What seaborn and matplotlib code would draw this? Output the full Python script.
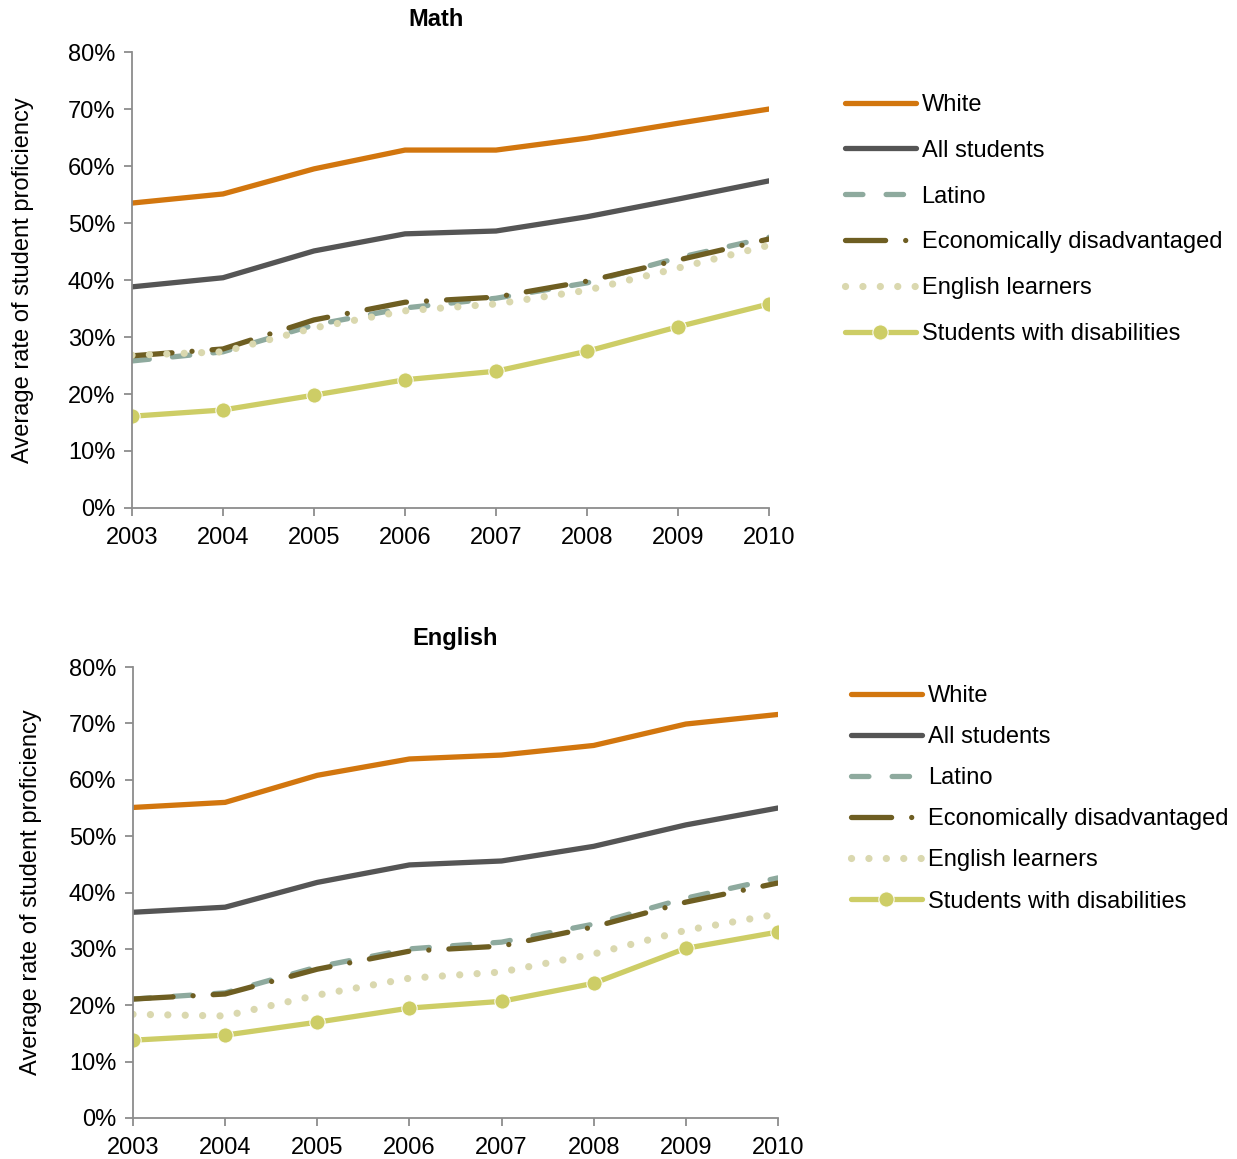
import matplotlib
matplotlib.use("Agg")
import matplotlib.pyplot as plt
from matplotlib.ticker import FuncFormatter
import seaborn as sns
import pandas as pd

# proficiency rates (%)
years = [2003, 2004, 2005, 2006, 2007, 2008, 2009, 2010]
groups = ["White", "All students", "Latino", "Economically disadvantaged",
          "English learners", "Students with disabilities"]

math_white = [53.5, 55.1, 59.5, 62.8, 62.8, 64.9, 67.5, 70.0]
math_all = [38.8, 40.4, 45.1, 48.1, 48.6, 51.1, 54.2, 57.4]
math_latino = [25.8, 27.4, 32.1, 35.1, 36.8, 39.5, 43.9, 47.5]
math_econ = [26.7, 27.9, 33.0, 36.1, 37.0, 39.8, 43.5, 47.2]
math_el = [26.8, 27.4, 31.6, 34.6, 35.8, 38.2, 42.1, 46.1]
math_swd = [16.1, 17.2, 19.8, 22.5, 24.0, 27.5, 31.8, 35.8]

eng_white = [55.1, 56.0, 60.8, 63.7, 64.4, 66.1, 69.9, 71.6]
eng_all = [36.5, 37.4, 41.8, 44.9, 45.6, 48.2, 52.0, 55.0]
eng_latino = [21.1, 22.2, 26.8, 30.0, 31.2, 34.4, 39.0, 42.6]
eng_econ = [21.1, 22.0, 26.4, 29.6, 30.5, 33.9, 38.3, 41.7]
eng_el = [18.4, 18.1, 21.8, 24.8, 25.9, 29.1, 33.3, 36.2]
eng_swd = [13.8, 14.7, 17.0, 19.5, 20.7, 23.9, 30.1, 33.0]

math_vals = [math_white, math_all, math_latino, math_econ, math_el, math_swd]
eng_vals = [eng_white, eng_all, eng_latino, eng_econ, eng_el, eng_swd]

styles = {
    "White": dict(color="#D2760E", lw=3.8, linestyle="-"),
    "All students": dict(color="#555555", lw=3.8, linestyle="-"),
    "Latino": dict(color="#8EAA9E", lw=3.8, linestyle=(0, (3.3, 4.4)),
                   dash_capstyle="round"),
    "Economically disadvantaged": dict(color="#6E5E22", lw=3.8,
                                       linestyle=(0, (7.6, 3.8, 0.01, 3.8)),
                                       dash_capstyle="round"),
    "English learners": dict(color="#DAD8AF", lw=5.2, linestyle=(0, (0.01, 2.4)),
                             dash_capstyle="round"),
    "Students with disabilities": dict(color="#CDCD66", lw=3.8, linestyle="-",
                                       marker="o", markersize=11),
}

sns.set_style("white")
plt.rcParams["font.family"] = ["Liberation Sans", "DejaVu Sans"]
plt.rcParams["text.color"] = "black"
plt.rcParams["axes.labelcolor"] = "black"
plt.rcParams["xtick.color"] = "black"
plt.rcParams["ytick.color"] = "black"

fig = plt.figure(figsize=(12.37, 11.59), dpi=100)
ax_top = fig.add_axes([0.1067, 0.5617, 0.515, 0.3934])
ax_bot = fig.add_axes([0.1075, 0.0354, 0.5214, 0.389])


def draw(ax, values, legend_xy, spacing, pad):
    for name, vals in zip(groups, values):
        df = pd.DataFrame({"year": years, "rate": vals})
        sns.lineplot(data=df, x="year", y="rate", ax=ax, label=name,
                     **styles[name])
    ax.set_xlim(2003, 2010)
    ax.set_ylim(0, 80)
    ax.set_xticks(years)
    ax.set_yticks(range(0, 81, 10))
    ax.yaxis.set_major_formatter(FuncFormatter(lambda v, p: f"{v:.0f}%"))
    ax.set_xlabel("")
    ax.set_ylabel("Average rate of student proficiency", fontsize=17,
                  labelpad=pad, color="black")
    for side in ["top", "right"]:
        ax.spines[side].set_visible(False)
    for side in ["left", "bottom"]:
        ax.spines[side].set_color("#8C8C8C")
        ax.spines[side].set_linewidth(1.3)
    ax.tick_params(axis="both", which="major", labelsize=17, direction="out",
                   length=6, width=1.3, color="#8C8C8C", labelcolor="black",
                   left=True, bottom=True, pad=6)
    ax.tick_params(axis="x", pad=8)
    leg = ax.legend(loc="upper left", bbox_to_anchor=legend_xy,
                    bbox_transform=fig.transFigure, frameon=False, fontsize=17,
                    handlelength=3.0, handletextpad=0.25, labelspacing=spacing,
                    borderpad=0, borderaxespad=0)
    for t in leg.get_texts():
        t.set_color("black")


draw(ax_top, math_vals, (0.683, 0.919), 1.01, 24)
draw(ax_bot, eng_vals, (0.688, 0.409), 0.81, 19)

fig.text(436 / 1237, 1 - 19 / 1159, "Math", ha="center", va="center",
         fontsize=17, fontweight="bold", color="black")
fig.text(455 / 1237, 1 - 638 / 1159, "English", ha="center", va="center",
         fontsize=17, fontweight="bold", color="black")

fig.savefig("out.png", dpi=100)
